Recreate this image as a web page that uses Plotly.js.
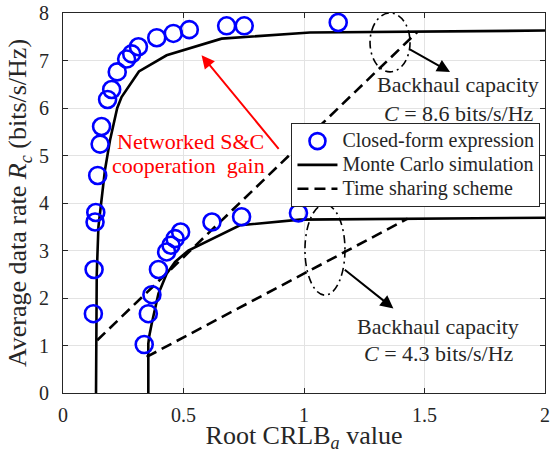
<!DOCTYPE html>
<html>
<head>
<meta charset="utf-8">
<script src="https://cdn.plot.ly/plotly-3.0.1.min.js"></script>
<style>html,body{margin:0;padding:0;background:#fff;}#chart{width:551px;height:453px;}</style>
</head>
<body>
<div id="chart"></div>
<script>
// Closed-form expression, backhaul C = 8.6 bits/s/Hz
const cfHighX = [0.126, 0.129, 0.133, 0.136, 0.144, 0.154, 0.160, 0.185, 0.202, 0.225, 0.264, 0.285, 0.313, 0.389, 0.458, 0.524, 0.679, 0.752, 1.142];
const cfHighY = [1.67, 2.60, 3.60, 3.80, 4.58, 5.24, 5.61, 6.18, 6.39, 6.76, 7.03, 7.14, 7.29, 7.48, 7.57, 7.65, 7.73, 7.73, 7.80];
// Closed-form expression, backhaul C = 4.3 bits/s/Hz
const cfLowX = [0.337, 0.354, 0.369, 0.396, 0.430, 0.448, 0.465, 0.488, 0.618, 0.741, 0.977];
const cfLowY = [1.02, 1.67, 2.07, 2.60, 2.97, 3.11, 3.25, 3.39, 3.60, 3.71, 3.79];
// Monte Carlo simulation
const mcHighX = [0.137, 0.140, 0.147, 0.160, 0.174, 0.195, 0.225, 0.243, 0.315, 0.43, 0.658, 1.025, 2.0];
const mcHighY = [0, 2.5, 3.5, 4.05, 4.69, 5.32, 6.0, 6.23, 6.77, 7.11, 7.46, 7.59, 7.63];
const mcLowX = [0.354, 0.354, 0.358, 0.368, 0.396, 0.43, 0.465, 0.52, 0.734, 0.983, 2.0];
const mcLowY = [0, 1.04, 1.2, 1.46, 2.09, 2.51, 2.76, 3.0, 3.53, 3.65, 3.69];
// Time sharing scheme
const tsHighX = [0.142, 1.47];
const tsHighY = [1.11, 7.60];
const tsLowX = [0.347, 1.43];
const tsLowY = [0.76, 3.67];
// Ticks
const xTicks = [0, 0.5, 1, 1.5, 2];
const xTickText = ['0', '0.5', '1', '1.5', '2'];
const yTicks = [0, 1, 2, 3, 4, 5, 6, 7, 8];
// Legend labels
const legendNames = ['Closed-form expression', 'Monte Carlo simulation', 'Time sharing scheme'];

const FONT = 'Liberation Serif, Times New Roman, serif';
const blue = '#0000ff';
const lbl = s => '<span style="font-size:20px">' + s + '</span>';

const circleMarker = {symbol: 'circle-open', size: 17, color: blue, line: {color: blue, width: 2.6}};
const solidLine = {color: '#000000', width: 2.6};
const dashLine = {color: '#000000', width: 2.6, dash: '11px,6px'};

const traces = [
  {x: tsHighX, y: tsHighY, mode: 'lines', line: dashLine, name: lbl(legendNames[2]), showlegend: false, legendrank: 3},
  {x: tsLowX, y: tsLowY, mode: 'lines', line: dashLine, name: lbl(legendNames[2]), showlegend: true, legendrank: 3},
  {x: mcHighX, y: mcHighY, mode: 'lines', line: solidLine, name: lbl(legendNames[1]), showlegend: false, legendrank: 2},
  {x: mcLowX, y: mcLowY, mode: 'lines', line: solidLine, name: lbl(legendNames[1]), showlegend: true, legendrank: 2},
  {x: cfHighX, y: cfHighY, mode: 'markers', marker: circleMarker, name: lbl(legendNames[0]), showlegend: true, legendrank: 1},
  {x: cfLowX, y: cfLowY, mode: 'markers', marker: circleMarker, name: lbl(legendNames[0]), showlegend: false, legendrank: 1}
];

const axisCommon = {
  showline: true, linecolor: '#262626', linewidth: 1, mirror: 'ticks',
  ticks: 'inside', ticklen: 5, tickcolor: '#262626', tickwidth: 1,
  showgrid: true, gridcolor: '#e3e3e3', gridwidth: 1, zeroline: false,
  tickfont: {family: FONT, size: 20, color: '#262626'}
};

const layout = {
  width: 551, height: 453,
  margin: {l: 63, r: 6, t: 13, b: 60},
  paper_bgcolor: '#ffffff', plot_bgcolor: '#ffffff',
  showlegend: true,
  legend: {
    x: 0.474, y: 0.71, xanchor: 'left', yanchor: 'top',
    bgcolor: '#ffffff', bordercolor: '#262626', borderwidth: 1,
    font: {family: FONT, size: 16, color: '#262626'},
    tracegroupgap: 0, itemwidth: 40
  },
  xaxis: Object.assign({}, axisCommon, {
    range: [0, 2], tickvals: xTicks, ticktext: xTickText, ticklabelstandoff: 4,
    title: {text: 'Root CRLB<sub><i>a</i></sub> value', font: {family: FONT, size: 26, color: '#262626'}, standoff: 14}
  }),
  yaxis: Object.assign({}, axisCommon, {
    range: [0, 8], tickvals: yTicks, ticklabelstandoff: 9,
    title: {text: 'Average data rate <i>R</i><sub><i>c</i></sub> (bits/s/Hz)', font: {family: FONT, size: 26, color: '#262626'}, standoff: 4}
  }),
  shapes: [
    {type: 'circle', xref: 'x', yref: 'y', x0: 1.274, x1: 1.44, y0: 6.76, y1: 8.0,
     line: {color: '#000000', width: 1.6, dash: '8px,4px,2px,4px'}},
    {type: 'circle', xref: 'x', yref: 'y', x0: 1.004, x1: 1.170, y0: 2.06, y1: 3.97,
     line: {color: '#000000', width: 1.6, dash: '8px,4px,2px,4px'}}
  ],
  annotations: [
    {x: 1.606, y: 6.76, ax: 1.433, ay: 7.25, xref: 'x', yref: 'y', axref: 'x', ayref: 'y',
     showarrow: true, arrowhead: 2, arrowsize: 1.3, arrowwidth: 2, arrowcolor: '#000000', text: ''},
    {x: 1.371, y: 1.78, ax: 1.163, ay: 2.62, xref: 'x', yref: 'y', axref: 'x', ayref: 'y',
     showarrow: true, arrowhead: 2, arrowsize: 1.3, arrowwidth: 2, arrowcolor: '#000000', text: ''},
    {x: 0.575, y: 7.11, ax: 0.900, ay: 5.11, xref: 'x', yref: 'y', axref: 'x', ayref: 'y',
     showarrow: true, arrowhead: 2, arrowsize: 1.3, arrowwidth: 2, arrowcolor: '#ff0000', text: ''},
    {x: 1.639, y: 6.50, xref: 'x', yref: 'y', showarrow: false, text: 'Backhaul capacity',
     font: {family: FONT, size: 22, color: '#262626'}},
    {x: 1.643, y: 5.89, xref: 'x', yref: 'y', showarrow: false, text: '<i>C</i> = 8.6 bits/s/Hz',
     font: {family: FONT, size: 22, color: '#262626'}},
    {x: 1.556, y: 1.39, xref: 'x', yref: 'y', showarrow: false, text: 'Backhaul capacity',
     font: {family: FONT, size: 22, color: '#262626'}},
    {x: 1.560, y: 0.83, xref: 'x', yref: 'y', showarrow: false, text: '<i>C</i> = 4.3 bits/s/Hz',
     font: {family: FONT, size: 22, color: '#262626'}},
    {x: 0.531, y: 5.30, xref: 'x', yref: 'y', showarrow: false, text: 'Networked S&amp;C',
     font: {family: FONT, size: 22, color: '#ff0000'}},
    {x: 0.519, y: 4.80, xref: 'x', yref: 'y', showarrow: false, text: 'cooperation&#160; gain',
     font: {family: FONT, size: 22, color: '#ff0000'}}
  ]
};

Plotly.newPlot('chart', traces, layout, {displayModeBar: false, staticPlot: true});
</script>
</body>
</html>
